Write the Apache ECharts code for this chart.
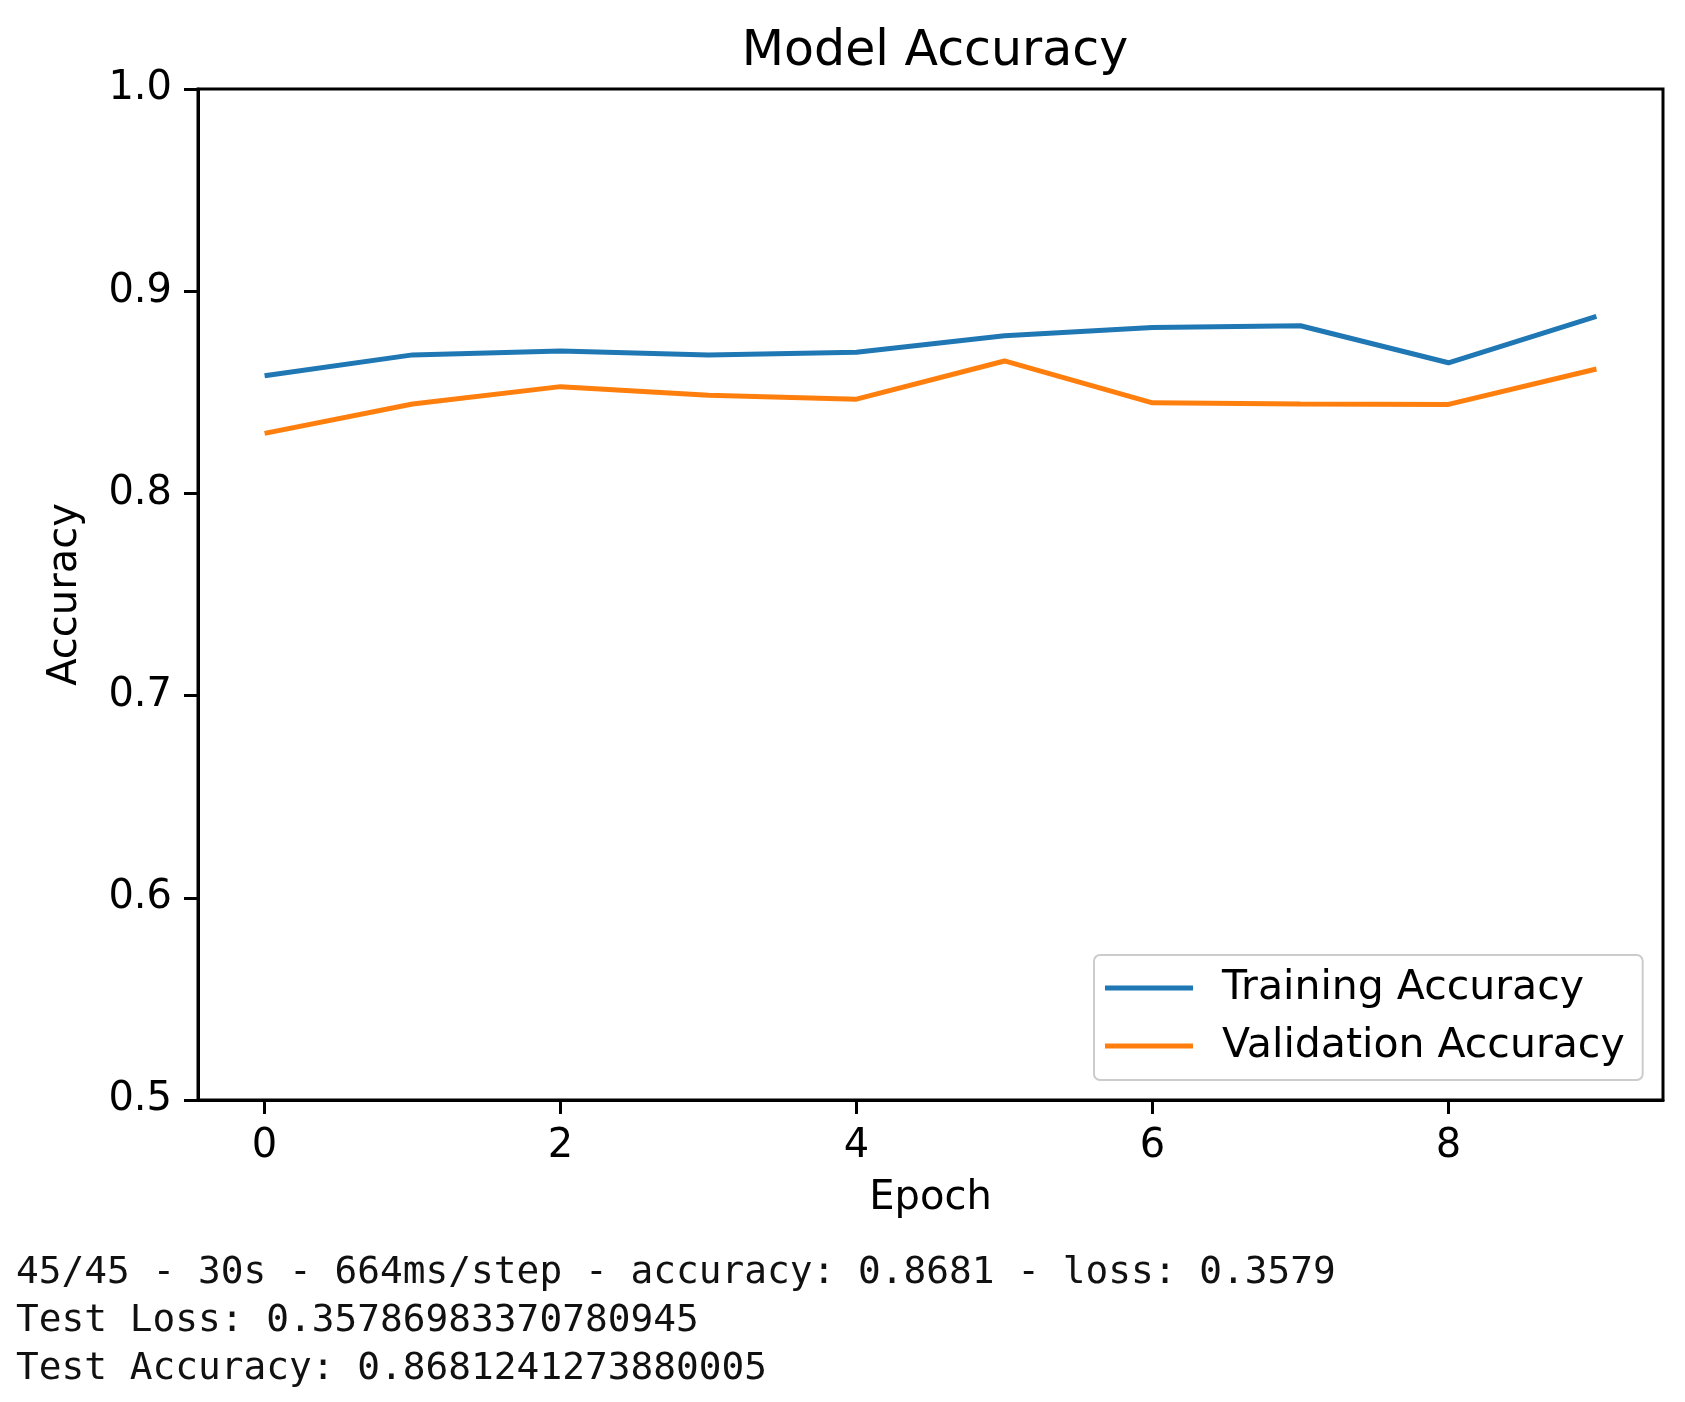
<!DOCTYPE html>
<html>
<head>
<meta charset="utf-8">
<script src="https://cdn.jsdelivr.net/npm/echarts@6/dist/echarts.min.js"></script>
<style>
html,body{margin:0;padding:0;background:#fff;}
#chart{width:1685px;height:1402px;}
</style>
</head>
<body>
<div id="chart"></div>
<script>
const epochs = [0, 1, 2, 3, 4, 5, 6, 7, 8, 9];
const trainingAcc = [0.8582, 0.8685, 0.8704, 0.8685, 0.8698, 0.8780, 0.8820, 0.8829, 0.8646, 0.8876];
const validationAcc = [0.8297, 0.8442, 0.8528, 0.8485, 0.8466, 0.8655, 0.8448, 0.8442, 0.8440, 0.8615];
const xTicks = [0, 2, 4, 6, 8];
const seriesNames = ['Training Accuracy', 'Validation Accuracy'];
const consoleLines = [
  '45/45 - 30s - 664ms/step - accuracy: 0.8681 - loss: 0.3579',
  'Test Loss: 0.35786983370780945',
  'Test Accuracy: 0.8681241273880005'
];

const chart = echarts.init(document.getElementById('chart'), null, {renderer: 'canvas'});
const font = 'DejaVu Sans';
const consoleY = [1276, 1324, 1372];

const option = {
  animation: false,
  backgroundColor: '#fff',
  title: {
    text: 'Model Accuracy',
    left: 930,
    textAlign: 'center',
    top: 23,
    textStyle: {fontFamily: font, fontSize: 49, fontWeight: 'normal', color: '#000'}
  },
  grid: {
    left: 198, top: 89, width: 1465, height: 1011,
    show: true, borderColor: '#000', borderWidth: 3, backgroundColor: 'transparent'
  },
  legend: {
    orient: 'vertical',
    left: 1094, top: 955,
    padding: [9, 18, 10, 11],
    itemGap: 10,
    itemWidth: 88, itemHeight: 5,
    icon: 'rect',
    borderColor: '#cccccc', borderWidth: 2, borderRadius: 6,
    backgroundColor: 'rgba(255,255,255,0.8)',
    textStyle: {fontFamily: font, fontSize: 41, color: '#000', lineHeight: 48, padding: [0, 0, 0, 24]},
    data: seriesNames
  },
  xAxis: {
    type: 'value',
    min: -0.45, max: 9.45,
    name: 'Epoch',
    nameLocation: 'middle',
    nameGap: 79,
    nameTextStyle: {fontFamily: font, fontSize: 40, color: '#000'},
    axisLine: {show: true, onZero: false, lineStyle: {color: '#000', width: 3}},
    axisTick: {show: true, length: 14, lineStyle: {color: '#000', width: 3}, customValues: xTicks},
    axisLabel: {margin: 27, fontFamily: font, fontSize: 40, color: '#000', customValues: xTicks, formatter: v => String(v)},
    splitLine: {show: false}
  },
  yAxis: {
    type: 'value',
    min: 0.5, max: 1.0, interval: 0.1,
    name: 'Accuracy',
    nameLocation: 'middle',
    nameGap: 112,
    nameRotate: 90,
    nameTextStyle: {fontFamily: font, fontSize: 40, color: '#000'},
    axisLine: {show: true, onZero: false, lineStyle: {color: '#000', width: 3}},
    axisTick: {show: true, length: 14, lineStyle: {color: '#000', width: 3}},
    axisLabel: {margin: 26, fontFamily: font, fontSize: 40, color: '#000', formatter: v => v.toFixed(1)},
    splitLine: {show: false}
  },
  series: [
    {
      name: seriesNames[0], type: 'line', showSymbol: false, symbol: 'none',
      data: epochs.map((e, i) => [e, trainingAcc[i]]),
      lineStyle: {color: '#1f77b4', width: 5}, itemStyle: {color: '#1f77b4'}
    },
    {
      name: seriesNames[1], type: 'line', showSymbol: false, symbol: 'none',
      data: epochs.map((e, i) => [e, validationAcc[i]]),
      lineStyle: {color: '#ff7f0e', width: 5}, itemStyle: {color: '#ff7f0e'}
    }
  ],
  graphic: consoleLines.map((t, i) => ({
    type: 'text',
    left: 16,
    top: consoleY[i] - 22,
    style: {text: t, font: '37.8px "DejaVu Sans Mono"', fill: '#111'}
  }))
};
chart.setOption(option);
</script>
</body>
</html>
